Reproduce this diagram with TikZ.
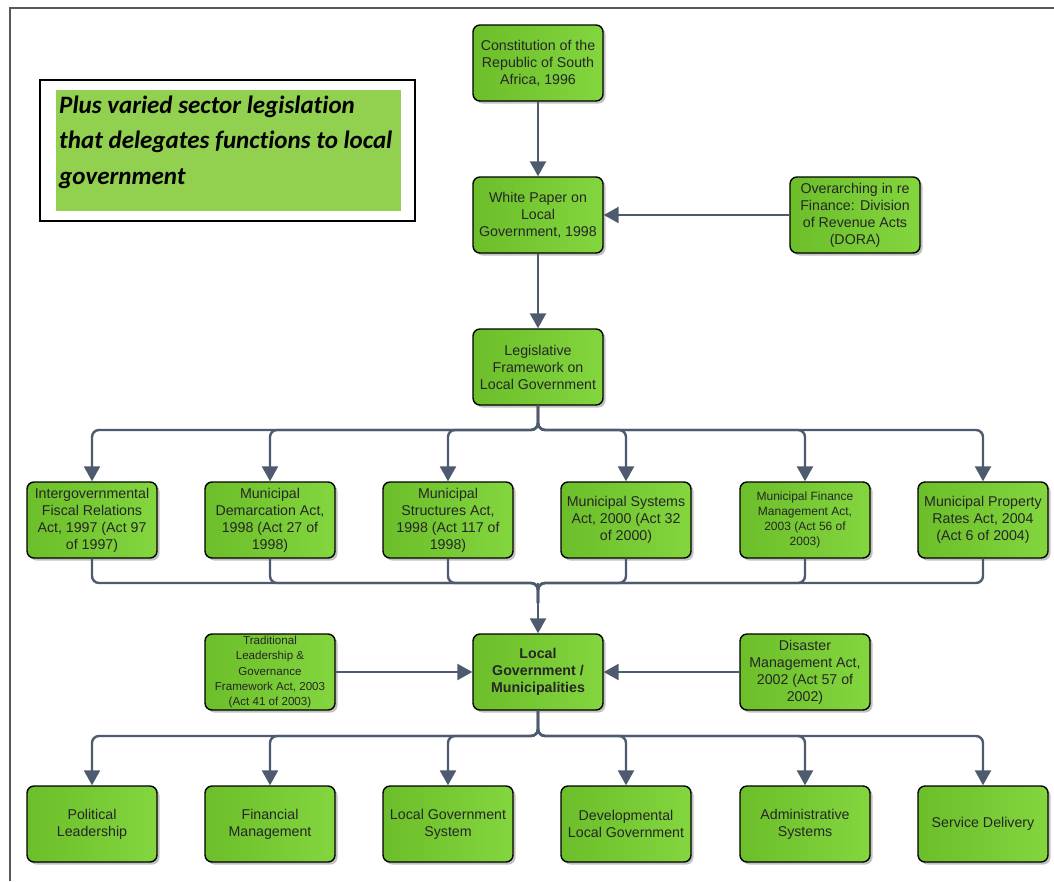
\documentclass[tikz,border=0pt]{standalone}
\usepackage{fontspec}
\setmainfont{Liberation Sans}
\newfontfamily\calloutfont[Ligatures=NoCommon]{Carlito}
\usetikzlibrary{arrows.meta,shadows}
\definecolor{boxgreen}{HTML}{6CBE2A}
\definecolor{boxgreenlt}{HTML}{84D63F}
\definecolor{linkgray}{HTML}{4E5A6E}
\definecolor{calloutgreen}{HTML}{92D050}
\begin{document}
\begin{tikzpicture}[x=1pt,y=-1pt]
      \tikzstyle{law}=[draw=black, line width=1.4pt, rounded corners=7pt,
        left color=boxgreen, right color=boxgreenlt,
        minimum width=130pt, minimum height=76pt, align=center, inner sep=2pt,
        font=\fontsize{14.2}{17}\selectfont, text=black!85,
        drop shadow={shadow xshift=2.5pt, shadow yshift=-2.5pt, fill=gray!60, opacity=0.8}]
      \tikzstyle{link}=[draw=linkgray, line width=2.4pt, rounded corners=7pt,
        -{Triangle[width=16pt,length=15pt]}]
      \tikzstyle{wire}=[draw=linkgray, line width=2.4pt, rounded corners=7pt]
      \useasboundingbox (0,0) rectangle (1054,881);
      \draw[black!65, line width=1.2pt] (10,881) -- (10,8) -- (1054,8);

      % callout
      \node[draw=black, line width=1.4pt, minimum width=375pt, minimum height=141pt] (note) at (227.5,150.5) {};
      \node[fill=calloutgreen, minimum width=345pt, minimum height=121pt, inner sep=0pt] (notefill) at (228.5,150.5) {};
      \node[anchor=base west, align=left, inner sep=0pt,
        font=\calloutfont\bfseries\itshape\fontsize{25}{35.5}\selectfont] (notetext) at (59,184)
        {Plus varied sector legislation\\that delegates functions to local\\government};

      % spine
      \node[law] (const) at (538,63) {Constitution of the\\Republic of South\\Africa, 1996};
      \node[law] (white) at (538,215) {White Paper on\\Local\\Government, 1998};
      \node[law] (dora) at (855,215) {Overarching in re\\Finance: Division\\of Revenue Acts\\(DORA)};
      \node[law] (legis) at (538,367) {Legislative\\Framework on\\Local Government};
      \node[law, font=\fontsize{14.2}{17}\selectfont\bfseries] (local) at (538,672) {Local\\Government /\\Municipalities};

      % acts
      \node[law] (igfr) at (92,520) {Intergovernmental\\Fiscal Relations\\Act, 1997 (Act 97\\of 1997)};
      \node[law] (demarc) at (270,520) {Municipal\\Demarcation Act,\\1998 (Act 27 of\\1998)};
      \node[law] (struct) at (448,520) {Municipal\\Structures Act,\\1998 (Act 117 of\\1998)};
      \node[law] (systems) at (626,520) {Municipal Systems\\Act, 2000 (Act 32\\of 2000)};
      \node[law, font=\fontsize{12}{15}\selectfont] (mfma) at (805,520) {Municipal Finance\\Management Act,\\2003 (Act 56 of\\2003)};
      \node[law] (rates) at (983,520) {Municipal Property\\Rates Act, 2004\\(Act 6 of 2004)};

      \node[law, font=\fontsize{11.6}{15.2}\selectfont] (trad) at (270,672) {Traditional\\Leadership \&\\Governance\\Framework Act, 2003\\(Act 41 of 2003)};
      \node[law] (disaster) at (805,672) {Disaster\\Management Act,\\2002 (Act 57 of\\2002)};

      % functions
      \node[law] (polit) at (92,824) {Political\\Leadership};
      \node[law] (finan) at (270,824) {Financial\\Management};
      \node[law] (lgsys) at (448,824) {Local Government\\System};
      \node[law] (devel) at (626,824) {Developmental\\Local Government};
      \node[law] (admin) at (805,824) {Administrative\\Systems};
      \node[law] (servd) at (983,824) {Service Delivery};

      \coordinate (busA) at (538,430);
      \coordinate (busB) at (538,583);
      \coordinate (busC) at (538,736);

      \draw[link] (const) -- (white);
      \draw[link] (white) -- (legis);
      \draw[link] (dora) -- (white);
      \draw[link] (trad) -- (local);
      \draw[link] (disaster) -- (local);

      \foreach \n in {igfr,demarc,struct,systems,mfma,rates}
        \draw[link] (legis.south) -- (busA) -| (\n.north);
      \foreach \n in {igfr,demarc,struct,systems,mfma,rates}
        \draw[wire] (\n.south) |- (busB) -- ([yshift=-20pt]busB);
      \draw[link] (busB) -- (local.north);
      \foreach \n in {polit,finan,lgsys,devel,admin,servd}
        \draw[link] (local.south) -- (busC) -| (\n.north);
    \end{tikzpicture}
\end{document}
